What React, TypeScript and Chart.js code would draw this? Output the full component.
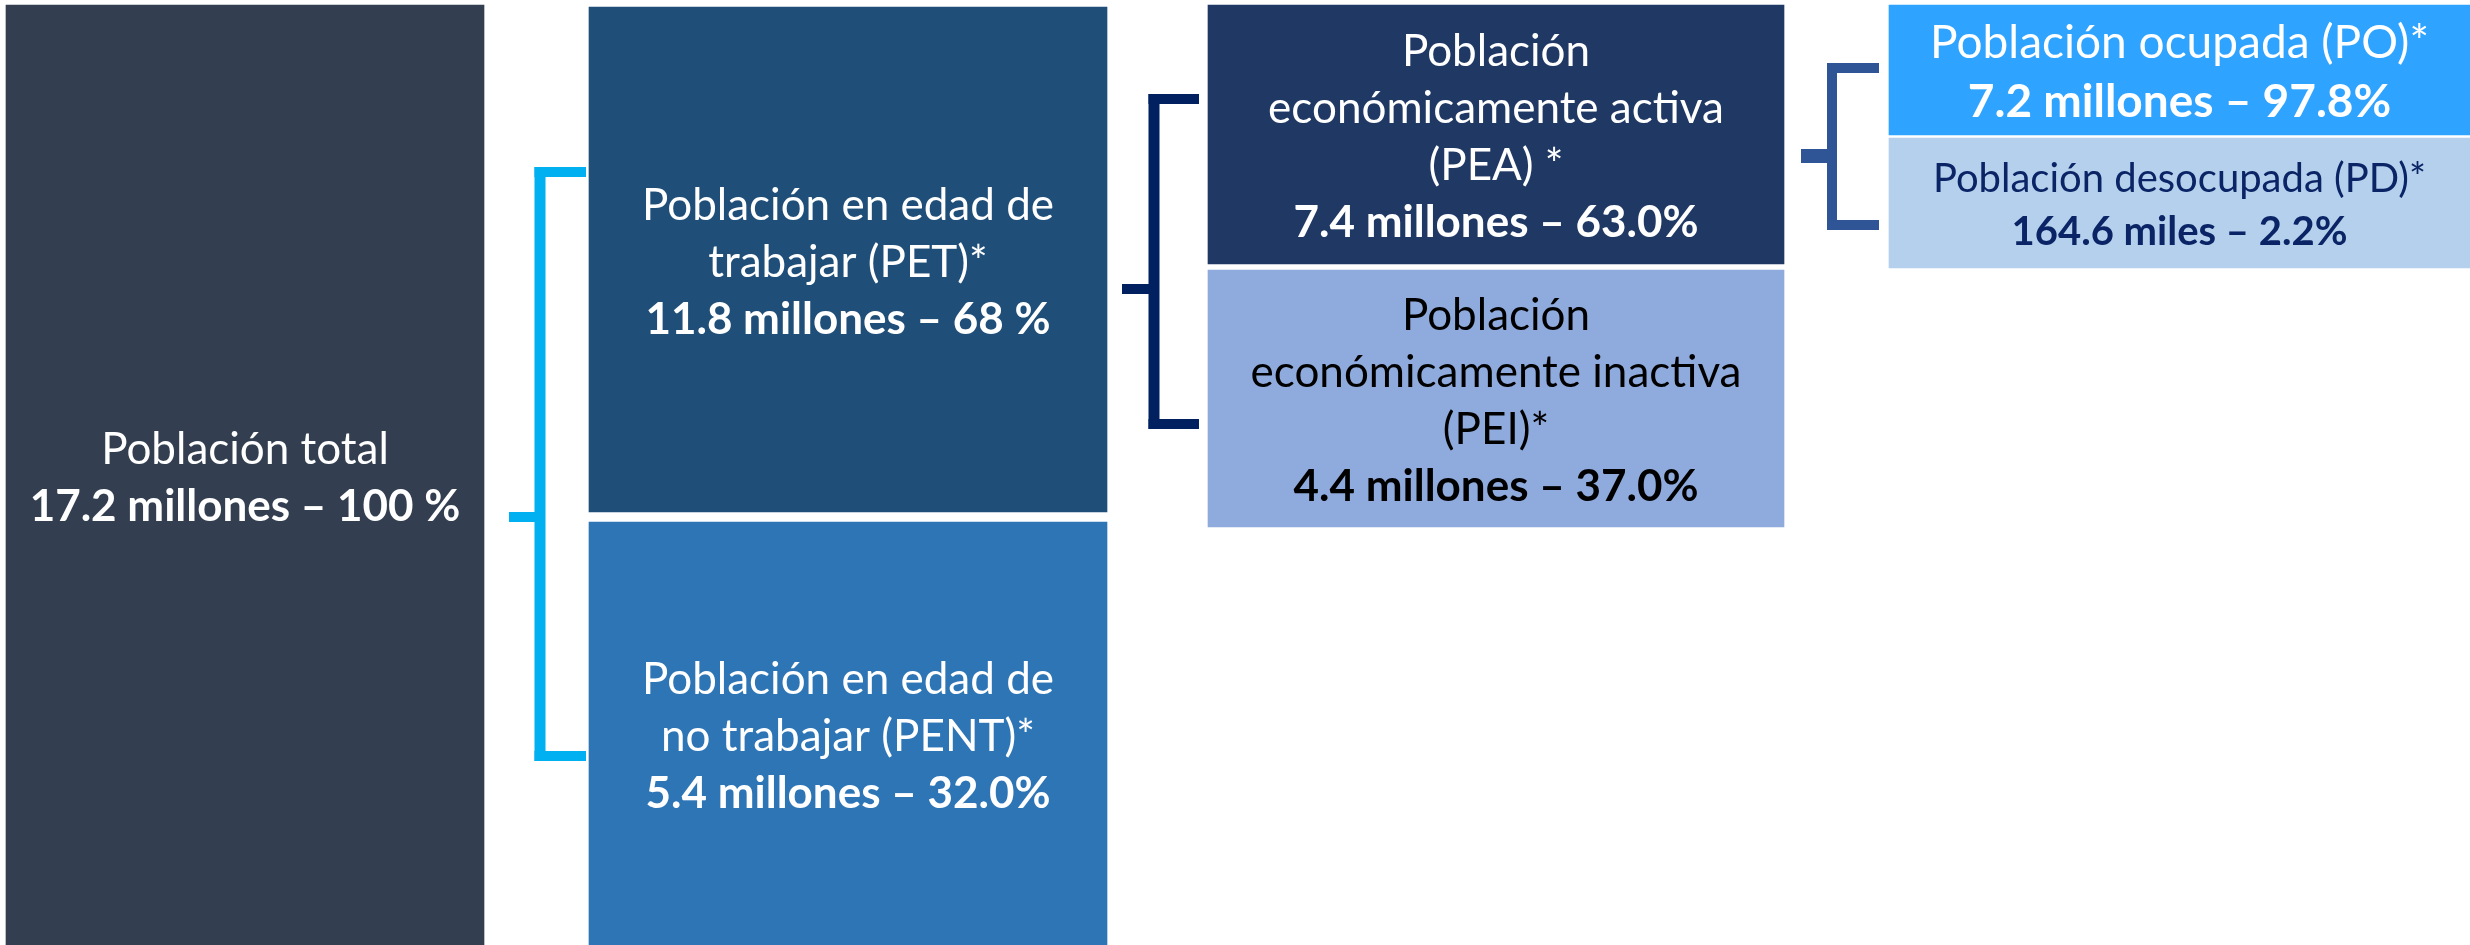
import React, { useEffect, useRef } from "react";
import { Chart, registerables } from "chart.js";

Chart.register(...registerables);

// ---------- DATA ----------
const nodeIds = ["PT", "PET", "PENT", "PEA", "PEI", "PO", "PD"];
const nodeTitles: string[][] = [
  ["Población total"],
  ["Población en edad de", "trabajar (PET)*"],
  ["Población en edad de", "no trabajar (PENT)*"],
  ["Población", "económicamente activa", "(PEA) *"],
  ["Población", "económicamente inactiva", "(PEI)*"],
  ["Población ocupada (PO)*"],
  ["Población desocupada (PD)*"],
];
const nodeValues = [17.2, 11.8, 5.4, 7.4, 4.4, 7.2, 164.6];
const nodeUnits = ["millones", "millones", "millones", "millones", "millones", "millones", "miles"];
const nodeShares = ["100 %", "68 %", "32.0%", "63.0%", "37.0%", "97.8%", "2.2%"];

// ---------- LAYOUT (diagram units = pixels of the 2470x945 picture) ----------
const columnCenters = [245, 848, 1496, 2179.5];
const columnWidths = [478, 518, 576, 581];
const nodeColumn = [0, 1, 1, 2, 2, 3, 3];
const nodeSpan: [number, number][] = [
  [5, 945],
  [7, 512],
  [522, 945],
  [5, 264],
  [270, 527],
  [5, 135],
  [138, 268],
];

// ---------- STYLES ----------
const nodeFill = ["#333F50", "#1F4E79", "#2E75B6", "#203864", "#8FAADC", "#2EA3FF", "#B4D0EC"];
const nodeTextColor = ["#FFFFFF", "#FFFFFF", "#FFFFFF", "#FFFFFF", "#000000", "#FFFFFF", "#0A2466"];
const nodeFontSize = [44, 44, 44, 44, 44, 46, 40];
const nodeLineHeight = [57, 57, 57, 57, 57, 59, 53];
const TEXT_SHIFT = 3;
const FONT = "Lato, 'Noto Sans', sans-serif";

type Bracket = {
  x: number; top: number; bottom: number; armEnd: number;
  mid: number; midStart: number; color: string; w: number; midW: number;
};
const brackets: Bracket[] = [
  { x: 540, top: 172, bottom: 756, armEnd: 586, mid: 517, midStart: 509, color: "#00B0F0", w: 11, midW: 10 },
  { x: 1154, top: 99, bottom: 424, armEnd: 1199, mid: 289, midStart: 1122, color: "#002060", w: 11, midW: 10 },
  { x: 1832, top: 68, bottom: 225, armEnd: 1879, mid: 156, midStart: 1801, color: "#2F5597", w: 10, midW: 14 },
];

const valueText = (i: number) =>
  `${nodeValues[i].toFixed(1)} ${nodeUnits[i]} – ${nodeShares[i]}`;

const labelsPlugin = {
  id: "boxLabels",
  afterDatasetsDraw(chart: any) {
    const ctx = chart.ctx;
    ctx.save();
    ctx.textAlign = "center";
    ctx.textBaseline = "middle";
    chart.data.datasets.forEach((ds: any, d: number) => {
      const meta = chart.getDatasetMeta(d);
      meta.data.forEach((el: any, k: number) => {
        const i = ds.nodeIndex[k];
        const p = el.getProps(["x", "y", "base"], true);
        const cy = (p.y + p.base) / 2 + TEXT_SHIFT;
        const lines = [...nodeTitles[i], valueText(i)];
        const lh = nodeLineHeight[i];
        const start = cy - ((lines.length - 1) * lh) / 2;
        ctx.fillStyle = nodeTextColor[i];
        lines.forEach((t, j) => {
          const bold = j === lines.length - 1;
          ctx.font = `${bold ? "bold " : ""}${nodeFontSize[i]}px ${FONT}`;
          ctx.fillText(t, p.x, start + j * lh);
        });
      });
    });
    ctx.restore();
  },
};

const bracketsPlugin = {
  id: "brackets",
  afterDatasetsDraw(chart: any) {
    const ctx = chart.ctx;
    const xs = chart.scales.x;
    const ys = chart.scales.y;
    ctx.save();
    brackets.forEach((b) => {
      ctx.fillStyle = b.color;
      const vx = xs.getPixelForValue(b.x);
      const top = ys.getPixelForValue(b.top);
      const bottom = ys.getPixelForValue(b.bottom);
      const armEnd = xs.getPixelForValue(b.armEnd);
      const mid = ys.getPixelForValue(b.mid);
      const midStart = xs.getPixelForValue(b.midStart);
      ctx.fillRect(vx - b.w / 2, top - 5, b.w, bottom - top + 10);
      ctx.fillRect(vx - b.w / 2, top - 5, armEnd - (vx - b.w / 2), 10);
      ctx.fillRect(vx - b.w / 2, bottom - 5, armEnd - (vx - b.w / 2), 10);
      ctx.fillRect(midStart, mid - b.midW / 2, vx - midStart, b.midW);
    });
    ctx.restore();
  },
};

export default function App() {
  const ref = useRef<HTMLCanvasElement | null>(null);

  useEffect(() => {
    document.body.style.margin = "0";
    document.body.style.background = "#FFFFFF";
    if (!ref.current) return;

    const datasets = columnCenters.map((cx, c) => {
      const idx = nodeIds.map((_, i) => i).filter((i) => nodeColumn[i] === c);
      return {
        label: `col${c}`,
        nodeIndex: idx,
        data: idx.map((i) => ({ x: cx, y: nodeSpan[i] })),
        backgroundColor: idx.map((i) => nodeFill[i]),
        borderWidth: 0,
        barThickness: columnWidths[c],
        stack: "diagram",
      };
    });

    const chart = new Chart(ref.current, {
      type: "bar",
      data: { datasets: datasets as any },
      options: {
        responsive: false,
        animation: false,
        events: [],
        layout: { padding: 0 },
        scales: {
          x: { type: "linear", min: 0, max: 2470, display: false, offset: false },
          y: { type: "linear", min: 0, max: 945, reverse: true, display: false, stacked: false },
        },
        plugins: {
          legend: { display: false },
          tooltip: { enabled: false },
          title: { display: false },
        },
      },
      plugins: [bracketsPlugin, labelsPlugin],
    });
    return () => chart.destroy();
  }, []);

  return (
    <div style={{ width: 2470, height: 945, overflow: "hidden" }}>
      <canvas ref={ref} width={2470} height={945} style={{ display: "block" }} />
    </div>
  );
}
